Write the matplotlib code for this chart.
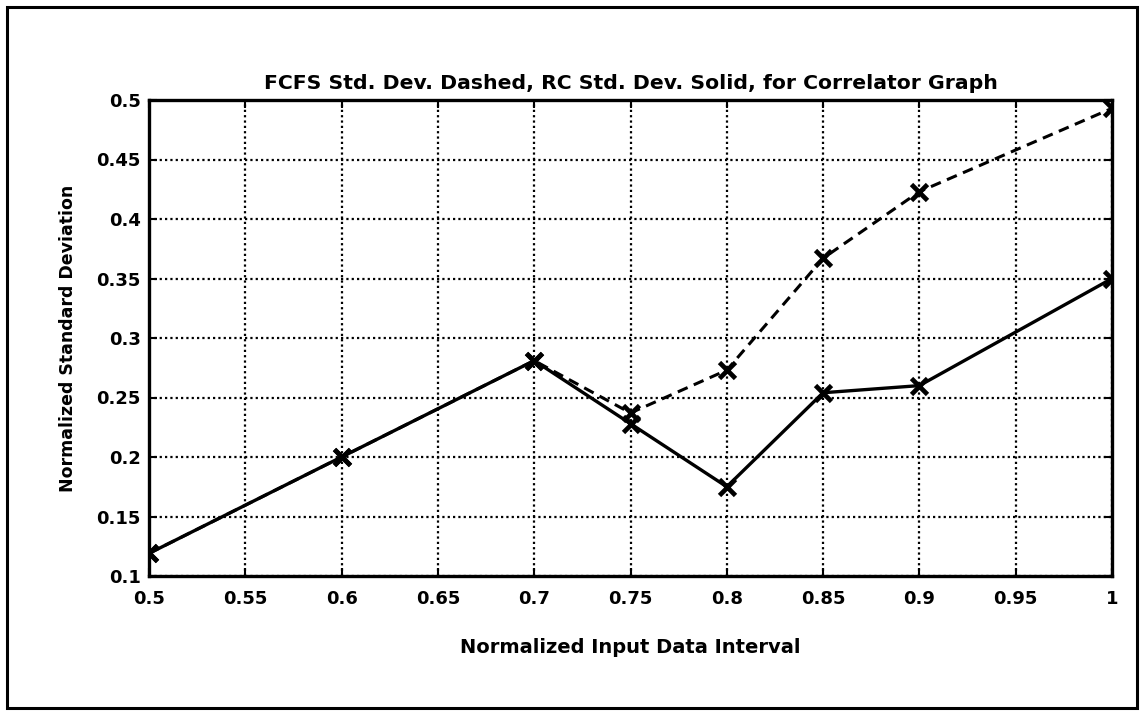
import matplotlib
matplotlib.use("Agg")
import matplotlib.pyplot as plt
from matplotlib.patches import Rectangle

x_vals = [0.5, 0.6, 0.7, 0.75, 0.8, 0.85, 0.9, 1.0]
rc_std = [0.119, 0.200, 0.281, 0.228, 0.175, 0.254, 0.260, 0.350]
fcfs_std = [0.119, 0.200, 0.281, 0.237, 0.273, 0.367, 0.423, 0.493]

x_ticks = [0.5, 0.55, 0.6, 0.65, 0.7, 0.75, 0.8, 0.85, 0.9, 0.95, 1.0]
x_ticklabels = ["0.5", "0.55", "0.6", "0.65", "0.7", "0.75", "0.8", "0.85", "0.9", "0.95", "1"]
y_ticks = [0.1, 0.15, 0.2, 0.25, 0.3, 0.35, 0.4, 0.45, 0.5]
y_ticklabels = ["0.1", "0.15", "0.2", "0.25", "0.3", "0.35", "0.4", "0.45", "0.5"]

title = "FCFS Std. Dev. Dashed, RC Std. Dev. Solid, for Correlator Graph"
xlabel = "Normalized Input Data Interval"
ylabel = "Normalized Standard Deviation"

plt.rcParams['font.family'] = ['DejaVu Sans']

W, H = 1142, 711
fig = plt.figure(figsize=(W / 100, H / 100), dpi=100)
fig.patch.set_facecolor('white')

# outer frame
fig.patches.append(Rectangle((7 / W, 3 / H), 1130 / W, 701 / H, transform=fig.transFigure,
                             fill=False, edgecolor='black', linewidth=2.2))

ax = fig.add_axes([149 / W, (H - 576) / H, 963 / W, 476 / H])
ax.set_xlim(0.5, 1.0)
ax.set_ylim(0.1, 0.5)

ax.grid(True, linestyle=(0, (1.0, 1.4)), color='black', linewidth=1.6)
ax.set_axisbelow(True)

ax.plot(x_vals, fcfs_std, color='black', linestyle=(0, (3.5, 2.2)), linewidth=2.2,
        marker='x', markersize=12, markeredgewidth=3.4)
ax.plot(x_vals, rc_std, color='black', linestyle='-', linewidth=2.4,
        marker='x', markersize=12, markeredgewidth=3.4)

ax.set_xticks(x_ticks)
ax.set_xticklabels(x_ticklabels)
ax.set_yticks(y_ticks)
ax.set_yticklabels(y_ticklabels)
ax.tick_params(direction='in', length=6, width=1.5, top=True, right=True,
               labelsize=13, pad=6)
for lab in ax.get_xticklabels() + ax.get_yticklabels():
    lab.set_fontweight('bold')
ax.tick_params(axis='x', pad=10)

for s in ax.spines.values():
    s.set_linewidth(2.4)
    s.set_color('black')

ax.set_title(title, fontsize=14.7, fontweight='bold', pad=8)
ax.set_xlabel(xlabel, fontsize=14, fontweight='bold', labelpad=22)
ax.set_ylabel(ylabel, fontsize=12.5, fontweight='bold', labelpad=14)

fig.savefig("out.png", dpi=100)
